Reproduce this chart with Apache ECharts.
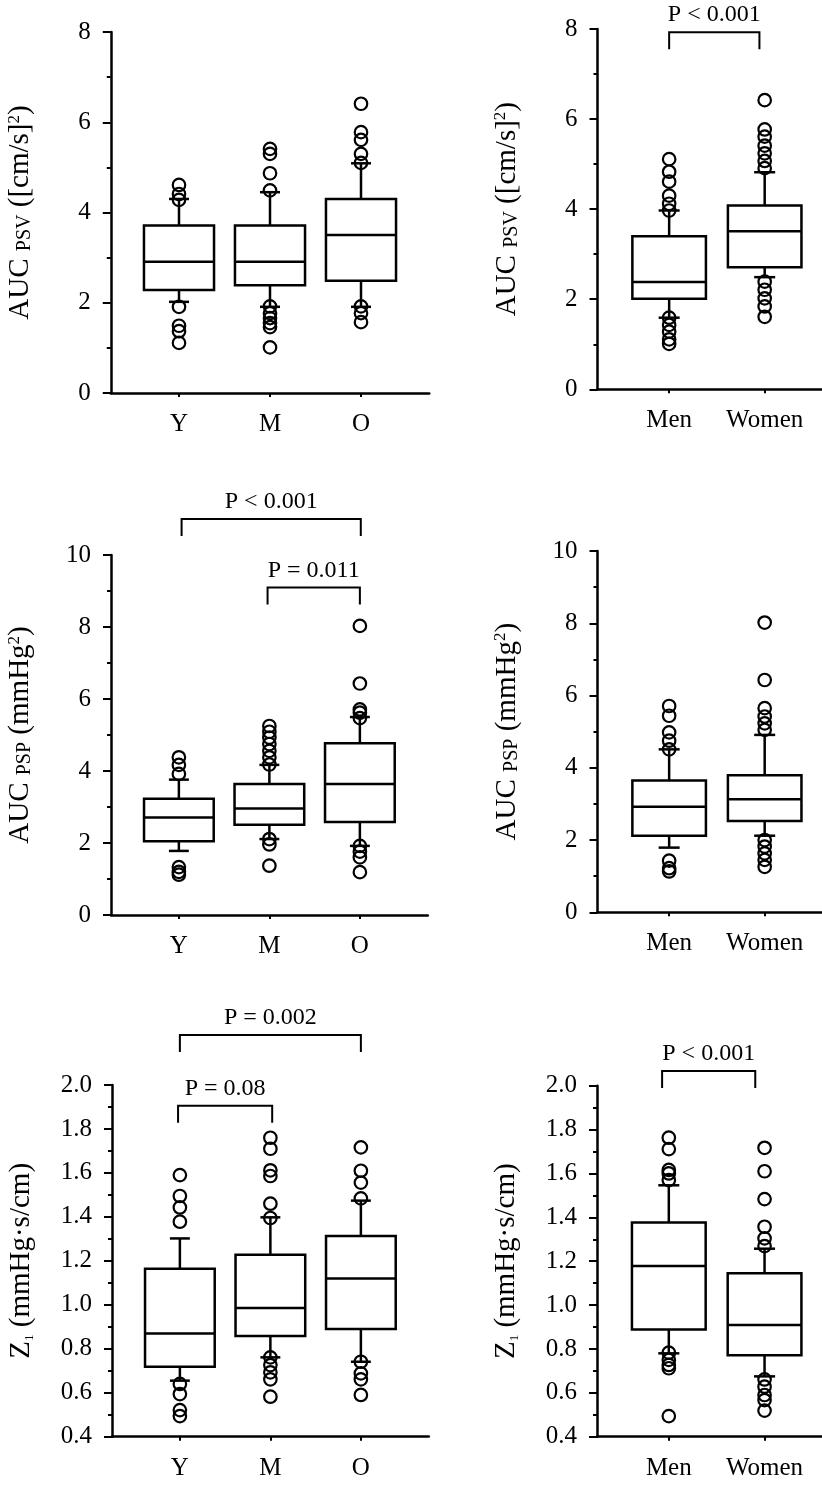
<!DOCTYPE html>
<html><head><meta charset="utf-8">
<script src="https://cdn.jsdelivr.net/npm/echarts@6/dist/echarts.min.js"></script>
<style>html,body{margin:0;padding:0;background:#fff}#c{width:822px;height:1496px}</style>
</head><body><div id="c"></div>
<script>
// ---------- DATA ----------
const ageCats = ['Y', 'M', 'O'];
const sexCats = ['Men', 'Women'];
const psvTicks = [0, 2, 4, 6, 8];
const pspTicks = [0, 2, 4, 6, 8, 10];
const z1Ticks = [0.4, 0.6, 0.8, 1.0, 1.2, 1.4, 1.6, 1.8, 2.0];

// each box: [lower whisker, Q1, median, Q3, upper whisker]
const psvAgeBoxes = [[2.02, 2.28, 2.91, 3.71, 4.30], [1.91, 2.39, 2.91, 3.71, 4.45], [1.91, 2.49, 3.50, 4.30, 5.09]];
const psvAgeOutliers = [[4.61, 4.41, 4.28, 1.91, 1.49, 1.37, 1.11], [5.41, 5.30, 4.87, 4.49, 1.92, 1.77, 1.66, 1.55, 1.46, 1.01], [6.41, 5.78, 5.61, 5.30, 5.10, 1.92, 1.77, 1.57]];
const psvSexBoxes = [[1.59, 2.01, 2.38, 3.40, 3.97], [2.49, 2.71, 3.51, 4.08, 4.82]];
const psvSexOutliers = [[5.11, 4.83, 4.61, 4.30, 4.12, 3.97, 1.59, 1.43, 1.28, 1.11, 1.01], [6.42, 5.77, 5.61, 5.41, 5.24, 5.07, 4.91, 2.39, 2.21, 2.02, 1.84, 1.61]];
const psvSexPairs = [[1.0, 1.945, 7.93]];
const psvSexP = ['P < 0.001'];

const pspAgeBoxes = [[1.78, 2.05, 2.71, 3.23, 3.76], [2.11, 2.51, 2.96, 3.64, 4.17], [1.92, 2.58, 3.64, 4.77, 5.50]];
const pspAgeOutliers = [[4.38, 4.17, 3.92, 1.33, 1.20, 1.12], [5.25, 5.09, 4.93, 4.75, 4.56, 4.38, 4.18, 2.11, 1.96, 1.37], [8.03, 6.43, 5.71, 5.62, 5.47, 1.92, 1.76, 1.60, 1.19]];
const pspAgePairs = [[1.03, 3.01, 11.0], [1.98, 3.0, 9.1]];
const pspAgeP = ['P < 0.001', 'P = 0.011'];
const pspSexBoxes = [[1.79, 2.12, 2.92, 3.65, 4.51], [2.12, 2.53, 3.13, 3.79, 4.91]];
const pspSexOutliers = [[5.71, 5.44, 4.98, 4.75, 4.51, 1.43, 1.22, 1.13], [8.02, 6.43, 5.65, 5.42, 5.23, 5.05, 2.00, 1.82, 1.63, 1.45, 1.26]];

const z1AgeBoxes = [[0.655, 0.718, 0.869, 1.164, 1.302], [0.761, 0.858, 0.985, 1.228, 1.398], [0.741, 0.890, 1.120, 1.313, 1.474]];
const z1AgeOutliers = [[1.59, 1.495, 1.443, 1.378, 0.64, 0.594, 0.521, 0.494], [1.76, 1.71, 1.612, 1.586, 1.46, 1.395, 0.761, 0.726, 0.693, 0.661, 0.582], [1.716, 1.61, 1.556, 1.484, 0.741, 0.688, 0.661, 0.59]];
const z1AgePairs = [[1.0, 3.0, 2.227], [0.98, 2.02, 1.906]];
const z1AgeP = ['P = 0.002', 'P = 0.08'];
const z1SexBoxes = [[0.78, 0.889, 1.178, 1.376, 1.546], [0.675, 0.771, 0.909, 1.145, 1.257]];
const z1SexOutliers = [[1.763, 1.711, 1.616, 1.60, 1.57, 0.783, 0.75, 0.727, 0.712, 0.494], [1.717, 1.61, 1.483, 1.357, 1.304, 1.269, 0.661, 0.628, 0.59, 0.567, 0.519]];
const z1SexPairs = [[0.93, 1.903, 2.067]];
const z1SexP = ['P < 0.001'];

// ---------- STYLE / LAYOUT ----------
const FONT = 'Liberation Serif';
const BOX_W = 0.77, CAP_W = 0.22, LEG = 17, P_OFFSET = 17;
const grids = [
  { left: 110.75, top: 32, width: 318.5, height: 361 },
  { left: 597.5, top: 29, width: 225.6, height: 360.3 },
  { left: 111, top: 555, width: 316.75, height: 360 },
  { left: 597.5, top: 551, width: 225.6, height: 361.3 },
  { left: 112, top: 1085, width: 316.75, height: 351.7 },
  { left: 597, top: 1085.7, width: 225.6, height: 351 }
];
const richStyles = {
  m: { fontFamily: FONT, fontSize: 29, color: '#000' },
  sub: { fontFamily: FONT, fontSize: 20, color: '#000', verticalAlign: 'bottom' },
  sub1: { fontFamily: FONT, fontSize: 13, color: '#000', verticalAlign: 'bottom' },
  sup: { fontFamily: FONT, fontSize: 17, color: '#000', verticalAlign: 'top' }
};
const psvName = '{m|AUC }{sub|PSV}{m| ([cm/s]}{sup|2}{m|)}';
const pspName = '{m|AUC }{sub|PSP}{m| (mmHg}{sup|2}{m|)}';
const z1Name = '{m|Z}{sub1|1}{m| (mmHg·s/cm)}';

function yAxis(gi, ticks, name, dec) {
  return {
    gridIndex: gi, type: 'value',
    min: ticks[0], max: ticks[ticks.length - 1], interval: +(ticks[1] - ticks[0]).toFixed(3),
    axisLine: { show: true, onZero: false, lineStyle: { color: '#000', width: 2.5 } },
    axisTick: { show: true, length: 8, lineStyle: { color: '#000', width: 2 } },
    minorTick: { show: true, splitNumber: 2, length: 4, lineStyle: { color: '#000', width: 2 } },
    splitLine: { show: false },
    axisLabel: { color: '#000', fontFamily: FONT, fontSize: 25, margin: 20, formatter: v => v.toFixed(dec) },
    name: name, nameLocation: 'middle', nameRotate: 90, nameGap: 76,
    nameTextStyle: { fontFamily: FONT, fontSize: 29, color: '#000', rich: richStyles }
  };
}
function xAxis(gi, cats, max) {
  const vals = cats.map((c, i) => i + 1);
  return {
    gridIndex: gi, type: 'value', min: 0.25, max: max,
    axisLine: { show: true, onZero: false, lineStyle: { color: '#000', width: 2.5 } },
    axisTick: { show: true, customValues: vals, length: 4, lineStyle: { color: '#000', width: 2 } },
    axisLabel: { customValues: vals, formatter: v => cats[Math.round(v) - 1], color: '#000', fontFamily: FONT, fontSize: 25, margin: 19 },
    splitLine: { show: false }
  };
}
function boxRender(params, api) {
  const x = api.value(0);
  const v = [1, 2, 3, 4, 5].map(i => api.value(i));
  const bw = api.size([BOX_W, 0])[0], cw = api.size([CAP_W, 0])[0];
  const cx = api.coord([x, v[2]])[0];
  const y = val => api.coord([x, val])[1];
  const st = { stroke: '#000', lineWidth: 2.5, fill: 'none' };
  const ln = (x1, y1, x2, y2) => ({ type: 'line', shape: { x1, y1, x2, y2 }, style: st });
  return {
    type: 'group', children: [
      { type: 'rect', shape: { x: cx - bw / 2, y: y(v[3]), width: bw, height: y(v[1]) - y(v[3]) }, style: st },
      ln(cx - bw / 2, y(v[2]), cx + bw / 2, y(v[2])),
      ln(cx, y(v[3]), cx, y(v[4])),
      ln(cx - cw / 2, y(v[4]), cx + cw / 2, y(v[4])),
      ln(cx, y(v[1]), cx, y(v[0])),
      ln(cx - cw / 2, y(v[0]), cx + cw / 2, y(v[0]))
    ]
  };
}
function bracketRender(labels) {
  return function (params, api) {
    const a = api.coord([api.value(0), api.value(2)]);
    const b = api.coord([api.value(1), api.value(2)]);
    return {
      type: 'group', children: [
        { type: 'polyline', shape: { points: [[a[0], a[1] + LEG], [a[0], a[1]], [b[0], b[1]], [b[0], b[1] + LEG]] }, style: { stroke: '#000', lineWidth: 2, fill: 'none' } },
        { type: 'text', style: { text: labels[params.dataIndex], x: (a[0] + b[0]) / 2, y: a[1] - P_OFFSET, align: 'center', verticalAlign: 'middle', font: '24px "' + FONT + '"', fill: '#000' } }
      ]
    };
  };
}
function panelSeries(gi, boxes, outliers, pairs, labels) {
  const s = [
    { type: 'custom', xAxisIndex: gi, yAxisIndex: gi, data: boxes.map((b, i) => [i + 1].concat(b)), renderItem: boxRender, encode: { x: 0, y: [1, 2, 3, 4, 5] }, silent: true, z: 2 },
    { type: 'scatter', xAxisIndex: gi, yAxisIndex: gi, data: outliers.flatMap((arr, i) => arr.map(val => [i + 1, val])), symbol: 'circle', symbolSize: 12.5, itemStyle: { color: 'rgba(0,0,0,0)', borderColor: '#000', borderWidth: 2.2, opacity: 1 }, silent: true, z: 3 }
  ];
  if (pairs) s.push({ type: 'custom', xAxisIndex: gi, yAxisIndex: gi, data: pairs, renderItem: bracketRender(labels), encode: { x: [0, 1], y: 2 }, clip: false, silent: true, z: 4 });
  return s;
}

const chart = echarts.init(document.getElementById('c'), null, { renderer: 'canvas' });
chart.setOption({
  animation: false,
  backgroundColor: '#fff',
  grid: grids,
  xAxis: [xAxis(0, ageCats, 3.75), xAxis(1, sexCats, 2.6), xAxis(2, ageCats, 3.75), xAxis(3, sexCats, 2.6), xAxis(4, ageCats, 3.75), xAxis(5, sexCats, 2.6)],
  yAxis: [yAxis(0, psvTicks, psvName, 0), yAxis(1, psvTicks, psvName, 0), yAxis(2, pspTicks, pspName, 0), yAxis(3, pspTicks, pspName, 0), yAxis(4, z1Ticks, z1Name, 1), yAxis(5, z1Ticks, z1Name, 1)],
  series: [].concat(
    panelSeries(0, psvAgeBoxes, psvAgeOutliers),
    panelSeries(1, psvSexBoxes, psvSexOutliers, psvSexPairs, psvSexP),
    panelSeries(2, pspAgeBoxes, pspAgeOutliers, pspAgePairs, pspAgeP),
    panelSeries(3, pspSexBoxes, pspSexOutliers),
    panelSeries(4, z1AgeBoxes, z1AgeOutliers, z1AgePairs, z1AgeP),
    panelSeries(5, z1SexBoxes, z1SexOutliers, z1SexPairs, z1SexP)
  )
});
</script>
</body></html>
